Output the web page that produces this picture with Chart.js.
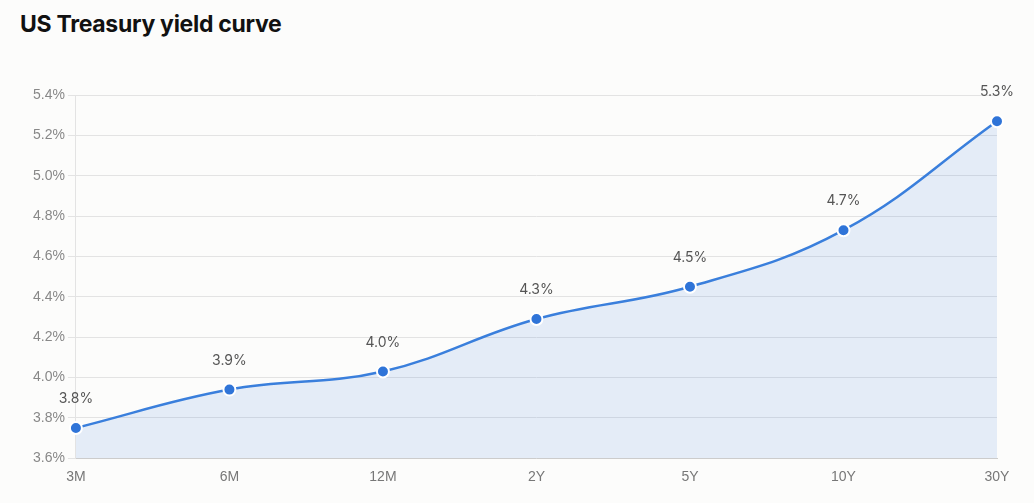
<!DOCTYPE html>
<html>
<head>
<meta charset="utf-8">
<script src="https://cdn.jsdelivr.net/npm/chart.js@4"></script>
<style>
  body { margin: 0; background: #fcfcfb; font-family: Inter, "Noto Sans", sans-serif; }
  h1 { margin: 0; position: absolute; left: 20px; top: 10px; font-size: 23px; font-weight: 700; color: #111; letter-spacing: -0.3px; }
  #wrap { position: absolute; left: 0; top: 70px; width: 1034px; height: 433px; }
</style>
</head>
<body>
<h1>US Treasury yield curve</h1>
<div id="wrap"><canvas id="yieldChart"></canvas></div>
<script>
// maturities and yields (%)
const maturities = ["3M", "6M", "12M", "2Y", "5Y", "10Y", "30Y"];
const yields = [3.75, 3.94, 4.03, 4.29, 4.45, 4.73, 5.27];

// draw value labels above each point
const pointLabels = {
    id: 'pointLabels',
    afterDatasetsDraw(chart) {
        const ctx = chart.ctx;
        const meta = chart.getDatasetMeta(0);
        ctx.save();
        ctx.font = '14px Inter, "Noto Sans", sans-serif';
        ctx.fillStyle = '#555';
        ctx.textAlign = 'center';
        ctx.textBaseline = 'bottom';
        meta.data.forEach((pt, i) => {
            ctx.fillText(yields[i].toFixed(1) + '%', pt.x, pt.y - 22);
        });
        ctx.restore();
    }
};

const ctx = document.getElementById('yieldChart').getContext('2d');
new Chart(ctx, {
    type: 'line',
    data: {
        labels: maturities,
        datasets: [{
            data: yields,
            borderColor: '#3a7fdc',
            borderWidth: 2.5,
            backgroundColor: 'rgba(58,127,220,0.12)',
            fill: 'start',
            tension: 0.4,
            pointRadius: 6,
            pointHoverRadius: 6,
            pointBackgroundColor: '#2f74d8',
            pointBorderColor: '#fff',
            pointBorderWidth: 2
        }]
    },
    options: {
        responsive: true,
        maintainAspectRatio: false,
        animation: false,
        layout: { padding: { left: 30, right: 37, top: 25, bottom: 14 } },
        scales: {
            x: {
                offset: false,
                grid: { display: false },
                border: { color: '#ccc' },
                ticks: { color: '#777', font: { size: 14 } }
            },
            y: {
                min: 3.6,
                max: 5.4,
                grid: { color: '#e3e3e3' },
                border: { color: '#e3e3e3' },
                ticks: {
                    stepSize: 0.2,
                    color: '#888',
                    font: { size: 14 },
                    callback: v => v.toFixed(1) + '%'
                }
            }
        },
        plugins: {
            legend: { display: false },
            tooltip: { enabled: false }
        }
    },
    plugins: [pointLabels]
});
</script>
</body>
</html>
